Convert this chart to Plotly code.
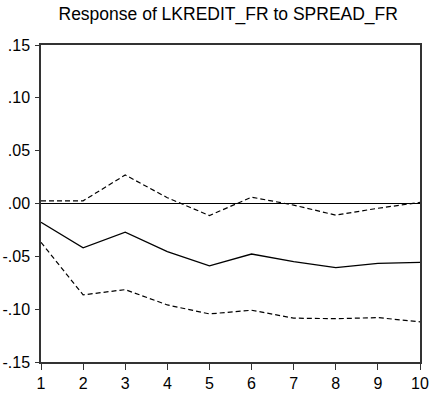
import plotly.graph_objects as go

# Impulse response of LKREDIT_FR to a SPREAD_FR shock, with +/- 2 S.E. bands
periods = [1, 2, 3, 4, 5, 6, 7, 8, 9, 10]
response = [-0.0177, -0.0420, -0.0272, -0.0455, -0.0590, -0.0478, -0.0550, -0.0607, -0.0566, -0.0557]
upper_band = [0.0025, 0.0025, 0.0270, 0.0055, -0.0114, 0.0060, -0.0015, -0.0110, -0.0045, 0.0010]
lower_band = [-0.0367, -0.0865, -0.0815, -0.0960, -0.1045, -0.1010, -0.1085, -0.1090, -0.1080, -0.1120]

y_tickvals = [0.15, 0.10, 0.05, 0.0, -0.05, -0.10, -0.15]
y_ticktext = [".15", ".10", ".05", ".00", "-.05", "-.10", "-.15"]
title_text = "Response of LKREDIT_FR to SPREAD_FR"

font_family = "Liberation Sans, Arial, sans-serif"

fig = go.Figure()
fig.add_trace(go.Scatter(x=periods, y=upper_band, mode="lines",
                         line=dict(color="black", width=1.2, dash="5px,3px")))
fig.add_trace(go.Scatter(x=periods, y=lower_band, mode="lines",
                         line=dict(color="black", width=1.2, dash="5px,3px")))
fig.add_trace(go.Scatter(x=periods, y=response, mode="lines",
                         line=dict(color="black", width=1.3)))

fig.update_layout(
    width=429, height=395,
    margin=dict(l=41, r=9, t=45, b=33),
    paper_bgcolor="white", plot_bgcolor="white",
    showlegend=False,
    title=dict(text=title_text, x=0.532, xanchor="center", y=0.964, yanchor="middle",
               font=dict(family=font_family, size=17.5, color="black")),
    font=dict(family=font_family, size=16, color="black"),
)
fig.update_xaxes(
    range=[1, 10], tickvals=periods, ticks="outside", ticklen=6, tickwidth=1.2,
    tickcolor="#333", showgrid=False, zeroline=False, automargin=False,
    showline=True, linecolor="#333", linewidth=1.5, mirror=True,
    tickfont=dict(size=16),
)
fig.update_yaxes(
    range=[-0.15, 0.15], tickvals=y_tickvals, ticktext=y_ticktext,
    ticks="outside", ticklen=4, tickwidth=1.2, tickcolor="#333",
    showgrid=False, zeroline=True, zerolinecolor="black", zerolinewidth=1,
    showline=True, linecolor="#333", linewidth=1.5, mirror=True, automargin=False,
    ticklabelstandoff=2, tickfont=dict(size=16),
)

fig.write_html("out.html")
